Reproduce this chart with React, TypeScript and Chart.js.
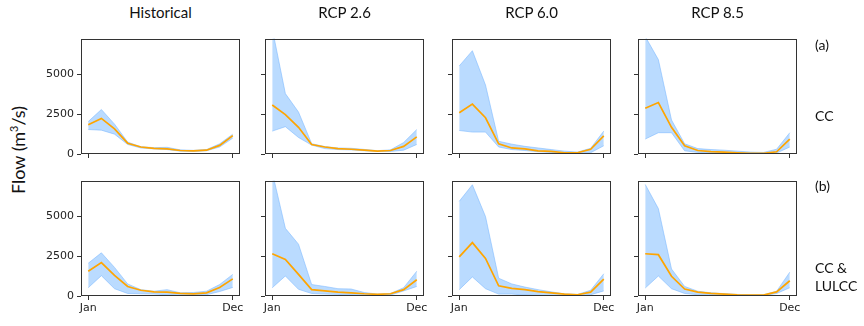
import React, { useEffect, useRef } from 'react';
import { Chart, registerables } from 'chart.js';
Chart.register(...registerables);

// ---- Data ----
const MONTHS = ['Jan', 'Feb', 'Mar', 'Apr', 'May', 'Jun', 'Jul', 'Aug', 'Sep', 'Oct', 'Nov', 'Dec'];
const X_TICK_MONTHS = ['Jan', 'Dec'];
const Y_TICKS = [0, 2500, 5000];
const Y_MAX = 7263;
const COL_TITLES = ['Historical', 'RCP 2.6', 'RCP 6.0', 'RCP 8.5'];

// Row (a): CC
const histCC_med = [1840, 2240, 1580, 680, 440, 360, 320, 220, 200, 240, 540, 1160];
const histCC_high = [2040, 2800, 1880, 750, 460, 400, 420, 260, 230, 280, 640, 1250];
const histCC_low = [1540, 1500, 1250, 600, 380, 320, 280, 180, 160, 200, 440, 1000];

const rcp26CC_med = [3080, 2480, 1680, 600, 440, 340, 300, 240, 180, 220, 480, 1080];
const rcp26CC_high = [7900, 3800, 2640, 650, 470, 380, 360, 290, 210, 260, 720, 1540];
const rcp26CC_low = [1440, 1720, 1040, 560, 340, 280, 260, 200, 160, 160, 240, 600];

const rcp60CC_med = [2600, 3140, 2280, 640, 380, 320, 200, 160, 80, 80, 300, 1140];
const rcp60CC_high = [5540, 6500, 4340, 800, 620, 480, 380, 280, 180, 120, 360, 1440];
const rcp60CC_low = [1480, 1380, 1380, 440, 280, 220, 140, 100, 50, 40, 80, 520];

const rcp85CC_med = [2880, 3240, 1680, 520, 220, 150, 120, 80, 40, 40, 140, 940];
const rcp85CC_high = [7400, 5940, 2140, 640, 340, 280, 240, 180, 120, 100, 300, 1340];
const rcp85CC_low = [940, 1340, 1340, 200, 100, 80, 60, 40, 20, 20, 60, 440];

// Row (b): CC & LULCC
const histLU_med = [1560, 2100, 1300, 600, 360, 260, 240, 160, 140, 200, 540, 1080];
const histLU_high = [2060, 2720, 1800, 760, 400, 300, 400, 200, 220, 300, 720, 1360];
const histLU_low = [520, 1280, 460, 160, 140, 120, 80, 40, 40, 80, 280, 540];

const rcp26LU_med = [2660, 2300, 1360, 400, 320, 240, 200, 140, 100, 140, 400, 1020];
const rcp26LU_high = [7800, 4260, 3260, 720, 600, 460, 440, 220, 120, 160, 520, 1560];
const rcp26LU_low = [520, 1260, 420, 160, 120, 100, 60, 40, 40, 60, 320, 600];

const rcp60LU_med = [2460, 3360, 2360, 640, 480, 400, 280, 200, 120, 80, 240, 1060];
const rcp60LU_high = [5960, 7000, 5000, 1120, 760, 560, 400, 260, 140, 100, 360, 1400];
const rcp60LU_low = [400, 1200, 460, 120, 120, 60, 40, 20, 20, 20, 80, 320];

const rcp85LU_med = [2660, 2600, 1240, 440, 240, 160, 120, 80, 60, 60, 260, 960];
const rcp85LU_high = [7020, 5500, 1700, 600, 300, 200, 150, 100, 80, 80, 300, 1500];
const rcp85LU_low = [500, 1260, 460, 160, 80, 60, 40, 20, 20, 20, 160, 520];

// ---- Layout ----
const COL_LEFT = [81, 265, 452, 638];
const ROW_TOP = [33, 175];
const FRAME_W = 159;
const FRAME_H = 121;
const YW = 45;
const PT = 4;
const PR = 12;
const XH = 22;

const FILL = 'rgba(140,195,255,0.6)';
const EDGE = 'rgba(120,182,255,0.55)';
const ORANGE = '#FFA500';
const AXIS = '#333333';
const TICK_FONT = { family: '"DejaVu Sans", sans-serif', size: 11 };
const TEXT_FONT = 'Lato, "Open Sans", sans-serif';

const framePlugin = {
  id: 'frame',
  afterDraw(chart: any) {
    const { ctx, chartArea } = chart;
    const l = Math.round(chartArea.left) + 0.5;
    const t = Math.round(chartArea.top) + 0.5;
    const r = Math.round(chartArea.right) - 0.5;
    const b = Math.round(chartArea.bottom) - 0.5;
    ctx.save();
    ctx.strokeStyle = AXIS;
    ctx.lineWidth = 1;
    ctx.strokeRect(l, t, r - l, b - t);
    ctx.restore();
  },
};

type PanelProps = {
  col: number;
  row: number;
  med: number[];
  low: number[];
  high: number[];
};

function Panel({ col, row, med, low, high }: PanelProps) {
  const ref = useRef<HTMLCanvasElement>(null);
  const showY = col === 0;
  const showX = row === 1;
  const width = YW + FRAME_W + PR;
  const height = PT + FRAME_H + XH;

  useEffect(() => {
    const toXY = (arr: number[]) => arr.map((v, i) => ({ x: i, y: v }));
    const chart = new Chart(ref.current as HTMLCanvasElement, {
      type: 'line',
      data: {
        labels: MONTHS,
        datasets: [
          { data: toXY(med), borderColor: ORANGE, borderWidth: 1.7, pointRadius: 0, fill: false, tension: 0 },
          { data: toXY(low), borderColor: EDGE, borderWidth: 1, pointRadius: 0, fill: false, tension: 0 },
          { data: toXY(high), borderColor: EDGE, borderWidth: 1, pointRadius: 0, fill: 1, backgroundColor: FILL, tension: 0 },
        ],
      } as any,
      options: {
        animation: false,
        responsive: false,
        maintainAspectRatio: false,
        layout: { padding: { top: PT, right: PR, left: 0, bottom: 0 } },
        plugins: { legend: { display: false }, tooltip: { enabled: false } },
        scales: {
          x: {
            type: 'linear',
            min: -0.55,
            max: 11.55,
            afterBuildTicks: (s: any) => {
              s.ticks = [{ value: 0 }, { value: MONTHS.length - 1 }];
            },
            afterFit: (s: any) => {
              s.height = XH;
            },
            ticks: {
              autoSkip: false,
              maxRotation: 0,
              padding: 2,
              font: TICK_FONT,
              color: '#222',
              callback: (v: any) => (showX ? (v === 0 ? X_TICK_MONTHS[0] : X_TICK_MONTHS[1]) : ''),
            },
            grid: { drawOnChartArea: false, drawTicks: true, tickLength: 4, color: AXIS },
            border: { display: false },
          },
          y: {
            type: 'linear',
            min: 0,
            max: Y_MAX,
            afterBuildTicks: (s: any) => {
              s.ticks = Y_TICKS.map((v) => ({ value: v }));
            },
            afterFit: (s: any) => {
              s.width = YW;
            },
            ticks: {
              padding: 3,
              font: TICK_FONT,
              color: '#222',
              callback: (v: any) => (showY ? String(v) : ''),
            },
            grid: { drawOnChartArea: false, drawTicks: true, tickLength: 4, color: AXIS },
            border: { display: false },
          },
        },
      } as any,
      plugins: [framePlugin],
    });
    return () => chart.destroy();
  }, []);

  return (
    <canvas
      ref={ref}
      width={width}
      height={height}
      style={{
        position: 'absolute',
        left: COL_LEFT[col] - YW,
        top: ROW_TOP[row] - PT,
        width,
        height,
      }}
    />
  );
}

const label = (text: React.ReactNode, style: React.CSSProperties, key?: string) => (
  <div
    key={key}
    style={{
      position: 'absolute',
      fontFamily: TEXT_FONT,
      color: '#111',
      whiteSpace: 'nowrap',
      lineHeight: 1,
      ...style,
    }}
  >
    {text}
  </div>
);

export default function App() {
  const rows = [
    [
      [histCC_med, histCC_low, histCC_high],
      [rcp26CC_med, rcp26CC_low, rcp26CC_high],
      [rcp60CC_med, rcp60CC_low, rcp60CC_high],
      [rcp85CC_med, rcp85CC_low, rcp85CC_high],
    ],
    [
      [histLU_med, histLU_low, histLU_high],
      [rcp26LU_med, rcp26LU_low, rcp26LU_high],
      [rcp60LU_med, rcp60LU_low, rcp60LU_high],
      [rcp85LU_med, rcp85LU_low, rcp85LU_high],
    ],
  ];
  return (
    <div style={{ position: 'absolute', left: 0, top: 0, width: 864, height: 326, background: '#fff', overflow: 'hidden' }}>
      {rows.map((r, ri) =>
        r.map((p, ci) => <Panel key={`${ri}-${ci}`} row={ri} col={ci} med={p[0]} low={p[1]} high={p[2]} />)
      )}
      {COL_TITLES.map((t, i) =>
        label(
          t,
          {
            left: COL_LEFT[i] + FRAME_W / 2,
            top: 5,
            transform: 'translateX(-50%)',
            fontSize: 15,
          },
          `t${i}`
        )
      )}
      {label(
        <span>
          Flow (m<sup style={{ fontSize: '0.6em', verticalAlign: 'super', lineHeight: 0 }}>3</sup>/s)
        </span>,
        { left: 18, top: 150, transform: 'translate(-50%, -50%) rotate(-90deg)', fontSize: 18 }
      )}
      {label('(a)', { left: 815, top: 38, fontSize: 14 })}
      {label('CC', { left: 815, top: 109, fontSize: 14 })}
      {label('(b)', { left: 815, top: 179, fontSize: 14 })}
      <div
        style={{
          position: 'absolute',
          left: 815,
          top: 259,
          fontFamily: TEXT_FONT,
          fontSize: 14,
          lineHeight: '18px',
          color: '#111',
        }}
      >
        CC &amp;
        <br />
        LULCC
      </div>
    </div>
  );
}
